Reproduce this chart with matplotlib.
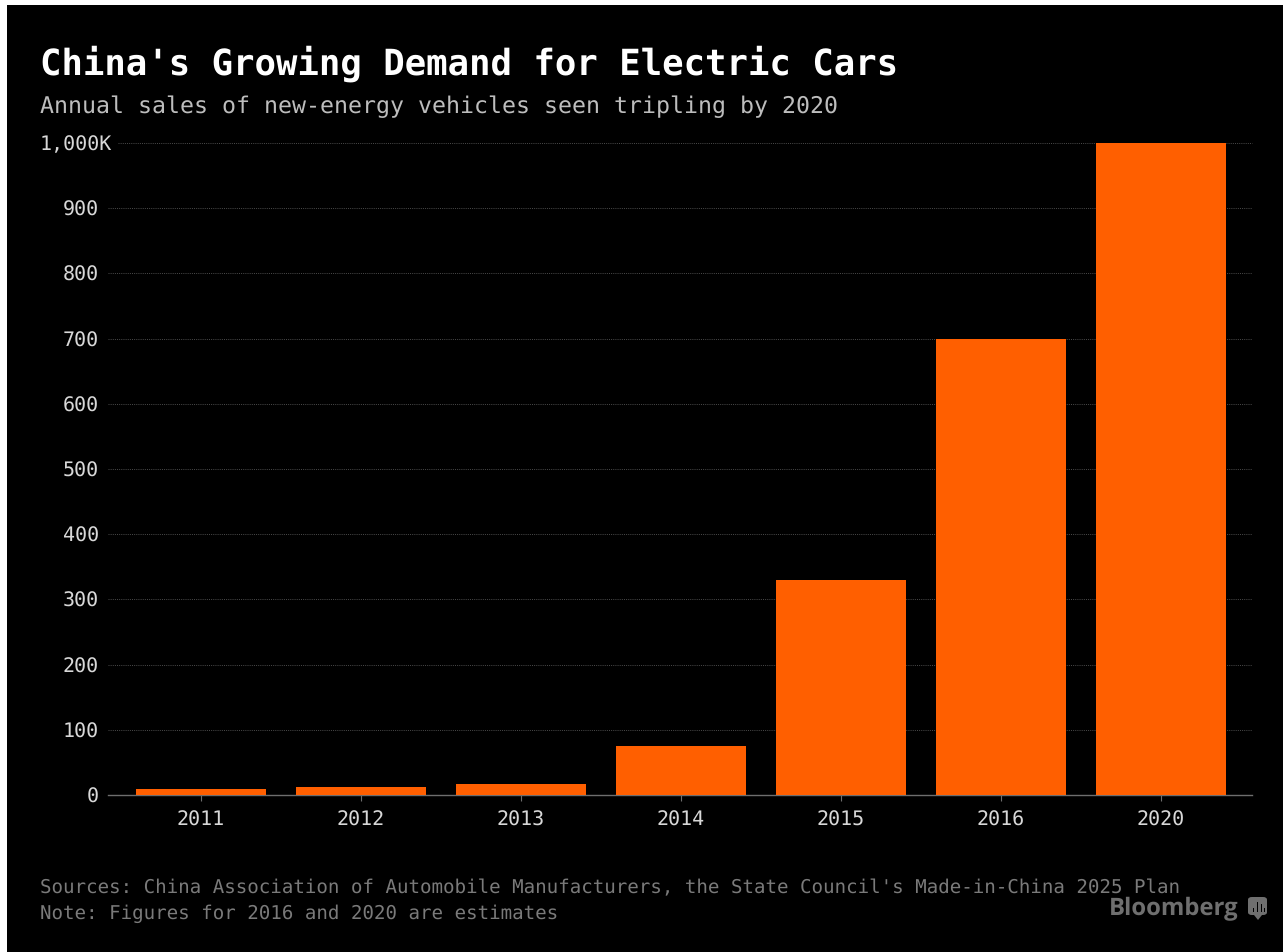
import matplotlib
matplotlib.use("Agg")
import matplotlib.pyplot as plt
from matplotlib.patches import FancyBboxPatch, Rectangle, Polygon
from matplotlib.transforms import ScaledTranslation

plt.rcParams["text.hinting"] = "none"

WIDTH, HEIGHT = 1283, 952

years = ["2011", "2012", "2013", "2014", "2015", "2016", "2020"]
sales = [8.5, 12, 16.5, 75, 330, 700, 1000]
y_ticks = [0, 100, 200, 300, 400, 500, 600, 700, 800, 900, 1000]
y_labels = ["0", "100", "200", "300", "400", "500", "600", "700", "800", "900", "1,000K"]

title = "China's Growing Demand for Electric Cars"
subtitle = "Annual sales of new-energy vehicles seen tripling by 2020"
footnote_1 = "Sources: China Association of Automobile Manufacturers, the State Council's Made-in-China 2025 Plan"
footnote_2 = "Note: Figures for 2016 and 2020 are estimates"
logo_text = "Bloomberg"

ORANGE = "#FF5F00"
MONO = "DejaVu Sans Mono"


def fx(px):
    return px / WIDTH


def fy(px):
    return 1 - px / HEIGHT


fig = plt.figure(figsize=(WIDTH / 100, HEIGHT / 100), dpi=100, facecolor="black")

# White page edge along the top and left of the dark panel
fig.add_artist(Rectangle((0, fy(5)), 1, 5 / HEIGHT, transform=fig.transFigure, fc="white", ec="none"))
fig.add_artist(Rectangle((0, 0), 7 / WIDTH, 1, transform=fig.transFigure, fc="white", ec="none"))

# Plot area runs from the zero line up to the top gridline
ax = fig.add_axes([fx(108), fy(795), (1252 - 108) / WIDTH, (795 - 143) / HEIGHT], facecolor="black")
positions = list(range(len(years)))
ax.bar(positions, sales, width=0.8125, color=ORANGE, zorder=3)
ax.set_xlim(-0.581, 6.569)
ax.set_ylim(0, 1000)

ax.set_xticks(positions, years)
ax.set_yticks(y_ticks, y_labels)
ax.tick_params(axis="x", length=4.5, width=0.8, color="#6E6E6E", labelcolor="#D8D8D8", labelsize=14.4, pad=6.7)
ax.tick_params(axis="y", length=0, labelcolor="#D8D8D8", labelsize=14.4, pad=6.5)
for label in ax.get_xticklabels() + ax.get_yticklabels():
    label.set_family(MONO)

# The unit suffix hangs past the right edge of the other y labels
top_label = ax.get_yticklabels()[-1]
top_label.set_transform(top_label.get_transform() + ScaledTranslation(13 / 100, 0, fig.dpi_scale_trans))

for side in ("top", "left", "right"):
    ax.spines[side].set_visible(False)
ax.spines["bottom"].set_color("#6E6E6E")
ax.spines["bottom"].set_linewidth(1.0)
ax.spines["bottom"].set_zorder(2)

# Dotted gridlines; the top one starts after its wider label
for value in y_ticks[1:]:
    start = (118 - 108) / (1252 - 108) if value == 1000 else 0
    ax.plot([start, 1], [value, value], transform=ax.get_yaxis_transform(), color="#4C4C4C",
            lw=0.7, ls=(0, (1, 1.2)), zorder=1, clip_on=False)

fig.text(fx(40), fy(75), title, color="white", family=MONO, weight="bold", fontsize=25.62, va="baseline")
fig.text(fx(40), fy(113), subtitle, color="#BDBDBD", family=MONO, fontsize=16.72, va="baseline")
fig.text(fx(40), fy(893), footnote_1, color="#7A7A7A", family=MONO, fontsize=13.75, va="baseline")
fig.text(fx(40), fy(919), footnote_2, color="#7A7A7A", family=MONO, fontsize=13.75, va="baseline")

# Wordmark and its small chart-bubble icon
fig.text(fx(1109), fy(915), logo_text, color="#6F6F6F", family="Open Sans", weight="bold",
         fontsize=17.2, va="baseline")
fig.add_artist(FancyBboxPatch((fx(1248), fy(915)), 19 / WIDTH, 18 / HEIGHT,
                              boxstyle="round,pad=0,rounding_size=0.003",
                              transform=fig.transFigure, fc="#6F6F6F", ec="none"))
fig.add_artist(Polygon([(fx(1254), fy(915)), (fx(1262), fy(915)), (fx(1258), fy(920))],
                       transform=fig.transFigure, fc="#6F6F6F", ec="none"))
for x_px, top_px in [(1252.5, 908), (1256.5, 902), (1260.5, 904), (1263.5, 908)]:
    fig.add_artist(Rectangle((fx(x_px), fy(912)), 1.6 / WIDTH, (912 - top_px) / HEIGHT,
                             transform=fig.transFigure, fc="black", ec="none"))

fig.savefig("out.png", dpi=100, facecolor=fig.get_facecolor())
